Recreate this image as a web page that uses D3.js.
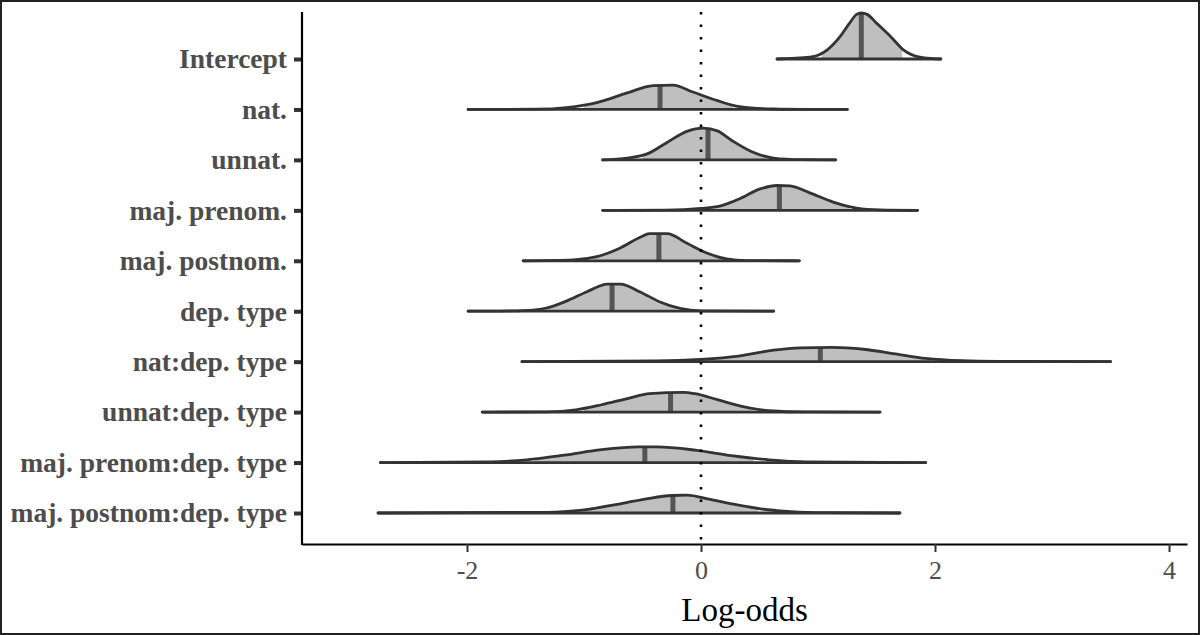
<!DOCTYPE html>
<html>
<head>
<meta charset="utf-8">
<script src="https://cdn.jsdelivr.net/npm/d3@7"></script>
<style>
  body { margin: 0; background: #fff; }
  svg { display: block; }
</style>
</head>
<body>
<div id="chart"></div>
<script>
var width = 1200,
    height = 635,
    plotLeft = 302,
    plotRight = 1187,
    plotTop = 12,
    plotBottom = 544;

// parameter names, top to bottom
var terms = ["Intercept", "nat.", "unnat.", "maj. prenom.", "maj. postnom.", "dep. type",
             "nat:dep. type", "unnat:dep. type", "maj. prenom:dep. type", "maj. postnom:dep. type"];

// posterior medians
var medians = [1.37, -0.35, 0.06, 0.67, -0.36, -0.76, 1.02, -0.26, -0.48, -0.24];

// shaded inner interval
var innerLow  = [1.03, -1.00, -0.50, 0.05, -0.92, -1.35, -0.07, -1.00, -1.42, -1.04];
var innerHigh = [1.72,  0.27,  0.55, 1.27,  0.19, -0.21,  1.96,  0.45,  0.45,  0.49];

// density outlines: [log-odds, scaled density]
var densIntercept = [[0.65,0],[0.93,0.04],[1.08,0.20],[1.19,0.49],[1.27,0.78],[1.33,0.97],[1.37,1.0],
                     [1.42,0.97],[1.50,0.78],[1.62,0.49],[1.73,0.20],[1.87,0.04],[1.98,0.01],[2.05,0]];
var densNat = [[-1.99,0],[-1.4,0.005],[-1.15,0.04],[-0.89,0.15],[-0.63,0.36],[-0.41,0.52],[-0.24,0.53],
               [-0.07,0.38],[0.14,0.19],[0.33,0.06],[0.62,0.01],[0.9,0.002],[1.25,0]];
var densUnnat = [[-0.84,0],[-0.63,0.04],[-0.46,0.13],[-0.29,0.38],[-0.12,0.62],[0.02,0.69],[0.14,0.63],
                 [0.27,0.41],[0.44,0.17],[0.62,0.04],[0.85,0.005],[1.15,0]];
var densPrenom = [[-0.84,0],[-0.3,0.005],[0.0,0.04],[0.16,0.09],[0.33,0.25],[0.50,0.46],[0.65,0.54],
                  [0.76,0.53],[0.93,0.38],[1.13,0.18],[1.33,0.05],[1.53,0.01],[1.85,0]];
var densPostnom = [[-1.52,0],[-1.09,0.02],[-0.89,0.09],[-0.69,0.28],[-0.52,0.51],[-0.44,0.59],[-0.29,0.59],
                   [-0.12,0.38],[0.05,0.17],[0.22,0.04],[0.39,0.005],[0.84,0]];
var densDep = [[-1.99,0],[-1.52,0.015],[-1.32,0.07],[-1.15,0.22],[-0.97,0.43],[-0.80,0.59],[-0.69,0.59],
               [-0.52,0.42],[-0.35,0.20],[-0.18,0.06],[0.0,0.007],[0.62,0]];
var densNatDep = [[-1.53,0],[-0.38,0.015],[0.0,0.05],[0.32,0.12],[0.62,0.25],[0.85,0.30],[1.12,0.31],
                  [1.39,0.27],[1.66,0.17],[1.92,0.07],[2.23,0.02],[2.54,0.007],[3.50,0]];
var densUnnatDep = [[-1.87,0],[-1.32,0.007],[-1.07,0.05],[-0.85,0.16],[-0.62,0.30],[-0.44,0.40],[-0.15,0.43],
                    [-0.05,0.40],[0.14,0.27],[0.36,0.12],[0.58,0.03],[0.90,0.003],[1.53,0]];
var densPrenomDep = [[-2.74,0],[-1.80,0.015],[-1.49,0.06],[-1.17,0.16],[-0.85,0.28],[-0.53,0.34],[-0.38,0.34],
                     [-0.05,0.27],[0.26,0.15],[0.58,0.06],[0.90,0.015],[1.92,0]];
var densPostnomDep = [[-2.76,0],[-1.32,0.015],[-1.0,0.07],[-0.69,0.20],[-0.44,0.32],[-0.25,0.38],[-0.12,0.39],
                      [0.07,0.30],[0.26,0.20],[0.51,0.09],[0.77,0.03],[1.06,0.007],[1.70,0]];

var densities = [densIntercept, densNat, densUnnat, densPrenom, densPostnom, densDep,
                 densNatDep, densUnnatDep, densPrenomDep, densPostnomDep];

var xTicks = [-2, 0, 2, 4];

var serif = "'Liberation Serif', 'DejaVu Serif', serif";

var svg = d3.select("#chart")
    .append("svg")
    .attr("width", width)
    .attr("height", height);

svg.append("rect")
    .attr("x", 1).attr("y", 1)
    .attr("width", width - 2).attr("height", height - 2)
    .attr("fill", "#fff")
    .attr("stroke", "#222")
    .attr("stroke-width", 2);

// x: 0 sits at 701px, 2 at 935px
var x = d3.scaleLinear().domain([-2, 4]).range([467, 1169]);
x.domain([x.invert(plotLeft), x.invert(plotRight)]).range([plotLeft, plotRight]);

var y = d3.scalePoint().domain(terms).range([59, 513]);

var h = d3.scaleLinear().domain([0, 1]).range([0, 46]);

var area = function(i){
    return d3.area()
        .x(function(d){ return x(d[0]); })
        .y0(y(terms[i]))
        .y1(function(d){ return y(terms[i]) - h(d[1]); })
        .curve(d3.curveMonotoneX);
};
var outline = function(i){
    return d3.line()
        .x(function(d){ return x(d[0]); })
        .y(function(d){ return y(terms[i]) - h(d[1]); })
        .curve(d3.curveMonotoneX);
};

var defs = svg.append("defs");

var rows = svg.append("g");

terms.forEach(function(t, i){
    var dens = densities[i];
    var base = y(t);

    // clip to inner interval
    defs.append("clipPath")
        .attr("id", "inner" + i)
        .append("rect")
        .attr("x", x(innerLow[i]))
        .attr("y", 0)
        .attr("width", x(innerHigh[i]) - x(innerLow[i]))
        .attr("height", height);

    // clip to the density shape, for the median bar
    defs.append("clipPath")
        .attr("id", "shape" + i)
        .append("path")
        .attr("d", area(i)(dens));

    var g = rows.append("g");

    g.append("path")
        .datum(dens)
        .attr("clip-path", "url(#inner" + i + ")")
        .attr("fill", "#bfbfbf")
        .attr("d", area(i));

    g.append("line")
        .attr("clip-path", "url(#shape" + i + ")")
        .attr("x1", x(medians[i])).attr("x2", x(medians[i]))
        .attr("y1", base).attr("y2", base - 60)
        .attr("stroke", "#555")
        .attr("stroke-width", 5);

    g.append("path")
        .datum(dens)
        .attr("fill", "none")
        .attr("stroke", "#333")
        .attr("stroke-width", 2.8)
        .attr("stroke-linejoin", "round")
        .attr("stroke-linecap", "round")
        .attr("d", outline(i));

    g.append("line")
        .attr("x1", x(dens[0][0])).attr("x2", x(dens[dens.length - 1][0]))
        .attr("y1", base).attr("y2", base)
        .attr("stroke", "#333")
        .attr("stroke-width", 2.8)
        .attr("stroke-linecap", "round");
});

// zero reference line
svg.append("line")
    .attr("x1", x(0)).attr("x2", x(0))
    .attr("y1", plotTop).attr("y2", plotBottom)
    .attr("stroke", "#000")
    .attr("stroke-width", 2.6)
    .attr("stroke-dasharray", "2.6 9.9");

// y axis
var yAxis = svg.append("g")
    .attr("transform", `translate(${plotLeft},0)`)
    .call(d3.axisLeft(y).tickSize(8).tickPadding(7));
yAxis.select(".domain").remove();
yAxis.selectAll(".tick line").attr("stroke", "#333").attr("stroke-width", 4);
yAxis.selectAll(".tick text")
    .attr("fill", "#4d4d4d")
    .style("font-family", serif)
    .style("font-size", "27.5px")
    .style("font-weight", "bold");

// x axis
var xAxis = svg.append("g")
    .attr("transform", `translate(0,${plotBottom})`)
    .call(d3.axisBottom(x).tickValues(xTicks).tickSize(8).tickSizeOuter(0).tickPadding(9)
        .tickFormat(function(d){ return String(d); }));
xAxis.select(".domain").attr("stroke", "#000").attr("stroke-width", 2.2);
xAxis.selectAll(".tick line").attr("stroke", "#333").attr("stroke-width", 2);
xAxis.selectAll(".tick text")
    .attr("fill", "#4d4d4d")
    .style("font-family", serif)
    .style("font-size", "26px");

svg.append("line")
    .attr("x1", plotLeft).attr("x2", plotLeft)
    .attr("y1", plotTop).attr("y2", plotBottom + 1)
    .attr("stroke", "#000")
    .attr("stroke-width", 2.2);

svg.append("text")
    .attr("x", (plotLeft + plotRight) / 2)
    .attr("y", 621)
    .attr("text-anchor", "middle")
    .style("font-family", serif)
    .style("font-size", "33px")
    .text("Log-odds");
</script>
</body>
</html>
